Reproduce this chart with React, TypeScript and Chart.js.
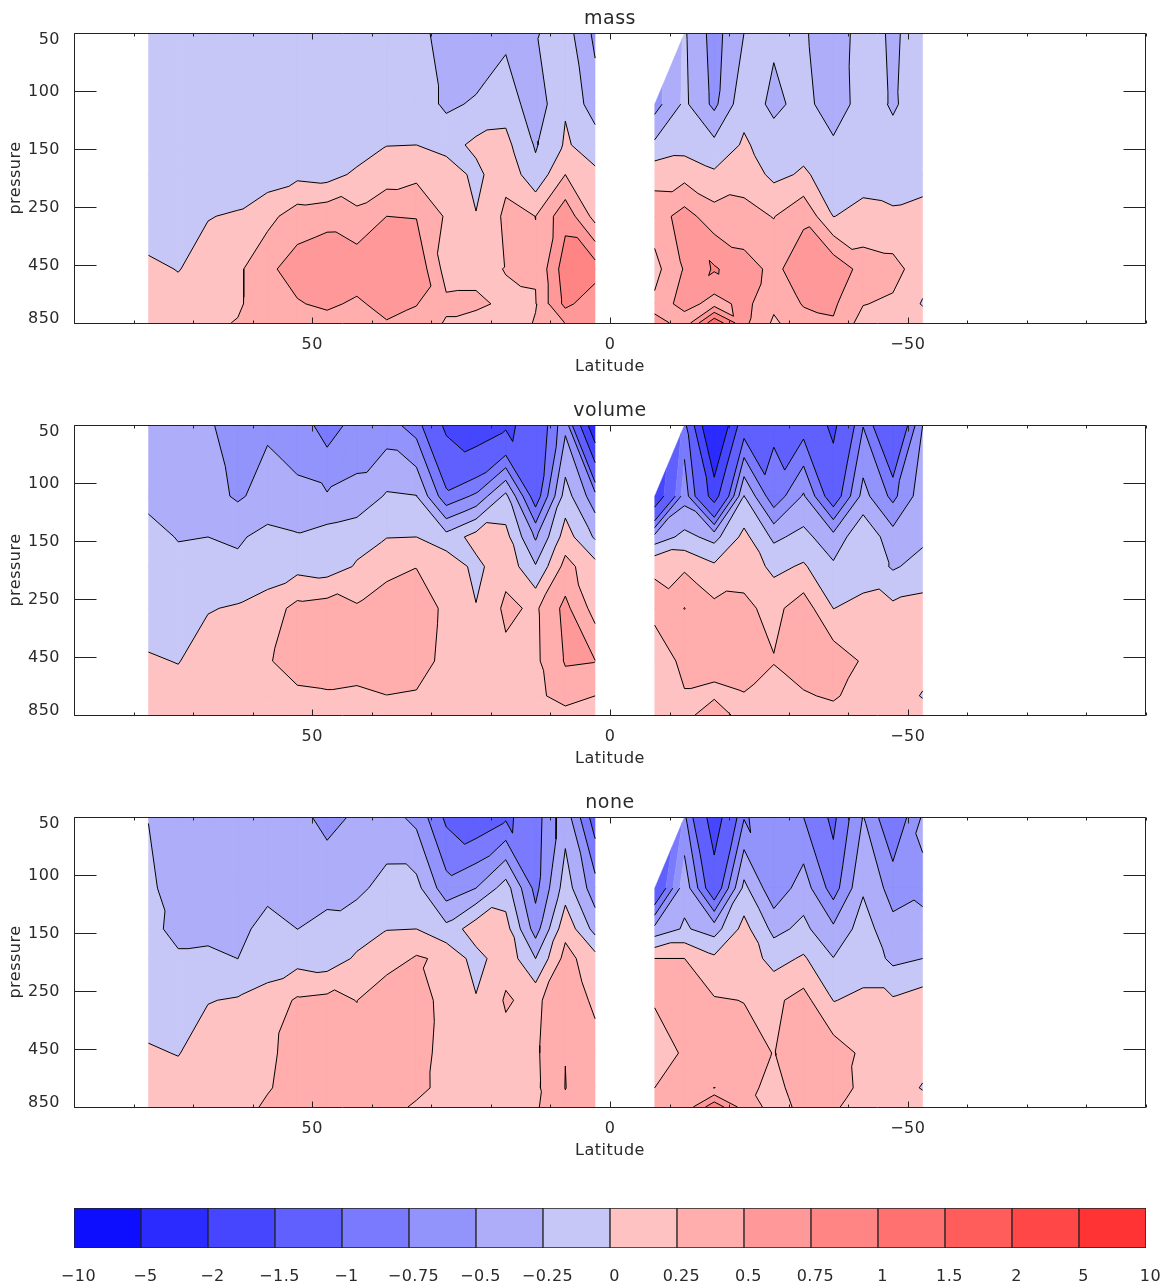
import React, { useEffect, useRef } from "react";
import { Chart, registerables } from "chart.js";

Chart.register(...registerables);

const FONT = "'DejaVu Sans', sans-serif";
const TEXT = "#2a2a2a";

const latLeft = [77.5, 72.5, 67.5, 62.5, 57.5, 52.5, 47.5, 42.5, 37.5, 32.5, 27.5, 22.5, 17.5, 12.5, 7.5, 2.5];
const latRight = [-7.5, -12.5, -17.5, -22.5, -27.5, -32.5, -37.5, -42.5, -47.5, -52.5];
// Grid rows, in axis units (one unit = one labelled pressure step)
const rowPos = [0, 1.227, 1.93, 2.44, 3.16, 4.07, 4.67, 5];
const pressureLabels = ["50", "100", "150", "250", "450", "850"];
const pressureLabelPos = [0.11, 1.02, 2.02, 3.02, 4.02, 4.92];

const levels = [-10, -5, -2, -1.5, -1, -0.75, -0.5, -0.25, 0, 0.25, 0.5, 0.75, 1, 1.5, 2, 5, 10];
const levelLabels = ["−10", "−5", "−2", "−1.5", "−1", "−0.75", "−0.5", "−0.25", "0", "0.25", "0.5", "0.75", "1", "1.5", "2", "5", "10"];
const bandColors = ["#0e0eff", "#2b2bff", "#4646ff", "#6060ff", "#7a7aff", "#9393fc", "#adadf9", "#c7c7f7", "#ffc2c2", "#ffadad", "#ff9999", "#ff8585", "#ff7070", "#ff5c5c", "#ff4747", "#ff3333"];

type Col = (number | null)[];

const massLeft: Col[] = [
  [-0.1, -0.1, -0.12, -0.15, -0.17, 0.06, 0.08, 0.1],
  [-0.1, -0.1, -0.12, -0.13, -0.1, -0.01, 0.1, 0.12],
  [-0.1, -0.1, -0.12, -0.1, -0.01, 0.1, 0.14, 0.18],
  [-0.1, -0.1, -0.19, -0.16, 0.027, 0.2, 0.2, 0.27],
  [-0.1, -0.1, -0.15, -0.128, 0.17, 0.45, 0.46, 0.45],
  [-0.1, -0.12, -0.13, -0.067, 0.379, 0.605, 0.48, 0.45],
  [-0.1, -0.12, -0.13, -0.1, 0.431, 0.66, 0.55, 0.4],
  [-0.1, -0.12, -0.142, 0.05, 0.315, 0.664, 0.454, 0.42],
  [-0.1, -0.1, -0.005, 0.115, 0.5, 0.68, 0.6, 0.48],
  [-0.124, -0.114, 0.0, 0.188, 0.49, 0.69, 0.51, 0.42],
  [-0.4, -0.294, -0.1, 0.16, 0.22, 0.15, 0.3, 0.225],
  [-0.44, -0.22, 0.058, -0.07, 0.01, 0.17, 0.3, 0.155],
  [-0.315, -0.1, 0.07, 0.19, 0.3, 0.26, 0.2, 0.15],
  [-0.27, -0.4, -0.275, -0.18, 0.249, 0.264, 0.24, 0.262],
  [-0.13, -0.02, 0.028, 0.25, 0.667, 0.891, 0.82, 0.51],
  [-0.56, -0.39, -0.11, 0.045, 0.159, 0.873, 0.573, 0.55],
];
const massRight: Col[] = [
  [null, -0.6, -0.2, 0.17, 0.375, 0.17, 0.3, 0.68],
  [-0.22, -0.2, -0.095, 0.162, 0.6, 0.52, 0.62, 0.32],
  [-0.6, -0.56, -0.18, 0.04, 0.357, 0.78, 0.39, 1.2],
  [-0.25, -0.076, 0.033, 0.15, 0.33, 0.6, 0.58, 0.56],
  [-0.2, -0.32, -0.12, -0.06, 0.24, 0.44, 0.3, 0.21],
  [-0.21, -0.15, -0.075, 0.03, 0.453, 0.64, 0.52, 0.4],
  [-0.45, -0.42, -0.2, -0.1, -0.003, 0.69, 0.54, 0.477],
  [-0.1, -0.12, -0.12, -0.05, 0.04, 0.4, 0.26, 0.15],
  [-0.3, -0.28, -0.17, -0.09, 0.03, 0.34, 0.208, 0.15],
  [-0.1, -0.12, -0.08, -0.08, 0.07, 0.11, -0.02, 0.15],
];
const volumeLeft: Col[] = [
  [-0.35, -0.3, -0.186, -0.16, -0.146, 0.03, 0.08, 0.1],
  [-0.35, -0.33, -0.26, -0.2, -0.12, -0.01, 0.1, 0.12],
  [-0.45, -0.4, -0.25, -0.12, -0.015, 0.12, 0.14, 0.16],
  [-0.68, -0.536, -0.28, -0.205, 0.025, 0.15, 0.16, 0.17],
  [-0.54, -0.4, -0.183, -0.147, 0.12, 0.226, 0.2, 0.17],
  [-0.6, -0.457, -0.225, -0.08, 0.325, 0.37, 0.197, 0.18],
  [-0.874, -0.477, -0.148, -0.125, 0.369, 0.4, 0.217, 0.2],
  [-0.65, -0.43, -0.084, 0.023, 0.28, 0.4, 0.187, 0.18],
  [-0.64, -0.223, -0.005, 0.13, 0.46, 0.42, 0.245, 0.17],
  [-0.87, -0.245, 0.0, 0.24, 0.44, 0.42, 0.215, 0.17],
  [-1.6, -0.926, -0.156, 0.175, 0.18, 0.14, 0.15, 0.15],
  [-1.85, -0.7, 0.1, -0.07, 0.011, 0.1, 0.14, 0.15],
  [-1.6, -0.184, 0.079, 0.175, 0.3, 0.19, 0.15, 0.14],
  [-1.3, -1.17, -0.534, -0.229, 0.21, 0.2, 0.17, 0.16],
  [-0.564, -0.136, 0.117, 0.332, 0.569, 0.52, 0.387, 0.128],
  [-2.45, -0.65, -0.284, 0.09, 0.146, 0.505, 0.25, 0.2],
];
const volumeRight: Col[] = [
  [null, -1.9, -0.41, 0.235, 0.285, 0.176, 0.2, 0.18],
  [-0.89, -0.6, -0.175, 0.21, 0.505, 0.28, 0.242, 0.2],
  [-2.77, -1.72, -0.33, 0.045, 0.311, 0.28, 0.23, 0.34],
  [-1.175, -0.245, 0.069, 0.163, 0.3, 0.3, 0.244, 0.18],
  [-1.034, -0.925, -0.3, -0.064, 0.18, 0.262, 0.14, 0.12],
  [-1.13, -0.47, -0.175, 0.03, 0.38, 0.36, 0.227, 0.2],
  [-1.6, -1.21, -0.41, -0.21, -0.002, 0.41, 0.28, 0.17],
  [-0.76, -0.41, -0.058, -0.07, 0.04, 0.22, 0.15, 0.14],
  [-1.5, -0.82, -0.39, -0.28, 0.06, 0.17, 0.16, 0.15],
  [-0.5, -0.35, -0.3, -0.16, 0.094, 0.12, -0.02, 0.14],
];
const noneLeft: Col[] = [
  [-0.26, -0.15, -0.17, -0.14, -0.13, 0.03, 0.08, 0.1],
  [-0.4, -0.48, -0.33, -0.21, -0.12, -0.01, 0.1, 0.12],
  [-0.4, -0.45, -0.33, -0.19, -0.01, 0.12, 0.14, 0.16],
  [-0.4, -0.45, -0.35, -0.251, 0.022, 0.14, 0.16, 0.2],
  [-0.35, -0.35, -0.126, -0.138, 0.1, 0.23, 0.24, 0.27],
  [-0.4, -0.35, -0.251, -0.092, 0.283, 0.29, 0.3, 0.32],
  [-0.6, -0.294, -0.21, -0.143, 0.32, 0.35, 0.36, 0.36],
  [-0.45, -0.3, -0.12, 0.038, 0.245, 0.36, 0.38, 0.38],
  [-0.4, -0.173, -0.005, 0.1, 0.48, 0.46, 0.45, 0.4],
  [-0.568, -0.172, 0.0, 0.28, 0.38, 0.4, 0.36, 0.19],
  [-1.057, -0.65, -0.177, 0.2, 0.15, 0.117, 0.12, 0.15],
  [-1.217, -0.5, 0.15, -0.1, 0.019, 0.1, 0.12, 0.14],
  [-1.05, -0.135, 0.099, 0.17, 0.275, 0.166, 0.14, 0.14],
  [-0.86, -0.83, -0.615, -0.251, 0.18, 0.21, 0.2, 0.22],
  [-0.35, -0.125, 0.176, 0.337, 0.49, 0.497, 0.505, 0.455],
  [-1.155, -0.645, -0.34, 0.1, 0.18, 0.38, 0.33, 0.35],
];
const noneRight: Col[] = [
  [null, -1.4, -0.42, 0.251, 0.27, 0.13, 0.25, 0.3],
  [-0.7, -0.33, -0.22, 0.251, 0.35, 0.28, 0.3, 0.32],
  [-1.77, -1.265, -0.36, 0.05, 0.27, 0.3, 0.249, 0.93],
  [-0.77, -0.18, 0.085, 0.15, 0.245, 0.33, 0.3, 0.38],
  [-0.65, -0.68, -0.32, -0.09, 0.2, 0.244, 0.2, 0.17],
  [-0.75, -0.37, -0.19, 0.032, 0.339, 0.35, 0.33, 0.3],
  [-1.06, -0.87, -0.45, -0.243, -0.005, 0.385, 0.33, 0.28],
  [-0.49, -0.28, -0.137, -0.07, 0.03, 0.2, 0.21, 0.15],
  [-1.0, -0.6, -0.427, -0.31, 0.03, 0.15, 0.15, 0.15],
  [-0.47, -0.53, -0.464, -0.25, 0.118, 0.12, -0.02, 0.15],
];

type V = { x: number; y: number; v: number };

// Triangles next to a missing grid value are shaded but carry no contour line
const unlined = new WeakSet<V[]>();

const mix = (p: V, q: V, level: number): V => {
  const t = (level - p.v) / (q.v - p.v);
  return { x: p.x + t * (q.x - p.x), y: p.y + t * (q.y - p.y), v: level };
};

const levelsCrossed = (p: V, q: V) => levels.filter((l) => p.v < l !== q.v < l).length;

function segmentsOf(t: V[], level: number): V[] {
  const pts: V[] = [];
  t.forEach((p, k) => {
    const q = t[(k + 1) % 3];
    if (p.v < level !== q.v < level) pts.push(mix(p, q, level));
  });
  return pts;
}

// Total on-screen length of the contours a pair of triangles would draw
function contourLength(tris: V[][]): number {
  let sum = 0;
  tris.forEach((t) =>
    levels.forEach((l) => {
      const s = segmentsOf(t, l);
      if (s.length === 2) sum += Math.hypot((s[0].x - s[1].x) * 5.96, (s[0].y - s[1].y) * 58);
    })
  );
  return sum;
}

// Splits each grid cell along the diagonal that the fewest contour levels
// cross; when that ties, the one that gives the straighter (shorter) contours.
function triangles(lats: number[], cols: Col[]): V[][] {
  const out: V[][] = [];
  const at = (i: number, j: number): V | null => {
    const v = cols[i][j];
    return v === null ? null : { x: lats[i], y: rowPos[j], v };
  };
  for (let i = 0; i < lats.length - 1; i++) {
    for (let j = 0; j < rowPos.length - 1; j++) {
      const a = at(i, j), b = at(i + 1, j), c = at(i, j + 1), d = at(i + 1, j + 1);
      if (!b || !c || !d) continue;
      if (!a) {
        const t = [b, c, d];
        unlined.add(t);
        out.push(t);
        continue;
      }
      const viaAD = [[a, b, d], [a, c, d]];
      const viaBC = [[a, b, c], [b, c, d]];
      const nAD = levelsCrossed(a, d), nBC = levelsCrossed(b, c);
      let useAD = nAD < nBC;
      if (nAD === nBC) useAD = nAD === 0 || contourLength(viaAD) <= contourLength(viaBC);
      out.push(...(useAD ? viaAD : viaBC));
    }
  }
  return out;
}

function clip(poly: V[], level: number, keepAbove: boolean): V[] {
  const out: V[] = [];
  const inside = (p: V) => (keepAbove ? p.v >= level : p.v <= level);
  poly.forEach((p, k) => {
    const q = poly[(k + 1) % poly.length];
    if (inside(p)) out.push(p);
    if (inside(p) !== inside(q)) out.push(mix(p, q, level));
  });
  return out;
}

const GAP = { x: NaN, y: NaN };

function buildDatasets(tris: V[][]) {
  const sets: any[] = [];
  bandColors.forEach((color, b) => {
    const data: any[] = [];
    tris.forEach((t) => {
      const poly = clip(clip(t, levels[b], true), levels[b + 1], false);
      if (poly.length > 2) {
        poly.forEach((p) => data.push({ x: p.x, y: p.y }));
        data.push(GAP);
      }
    });
    sets.push({ label: "band " + levelLabels[b], bandFill: color, data, showLine: false, pointRadius: 0 });
  });
  levels.forEach((level, l) => {
    const data: any[] = [];
    tris.forEach((t) => {
      if (unlined.has(t)) return;
      const pts = segmentsOf(t, level);
      if (pts.length === 2) data.push({ x: pts[0].x, y: pts[0].y }, { x: pts[1].x, y: pts[1].y }, GAP);
    });
    sets.push({ label: "level " + levelLabels[l], data, showLine: true, borderColor: "#000", borderWidth: 1, pointRadius: 0, spanGaps: false });
  });
  return sets;
}

const textSpacing = {
  id: "textSpacing",
  beforeDraw(chart: any) {
    chart.ctx.letterSpacing = "0.5px";
  },
};

const bandFillPlugin = {
  id: "bandFill",
  beforeDatasetsDraw(chart: any) {
    const { ctx, chartArea: area, scales } = chart;
    ctx.save();
    ctx.beginPath();
    ctx.rect(area.left, area.top, area.right - area.left, area.bottom - area.top);
    ctx.clip();
    ctx.lineWidth = 0.4;
    chart.data.datasets.forEach((ds: any) => {
      if (!ds.bandFill) return;
      ctx.fillStyle = ds.bandFill;
      ctx.strokeStyle = ds.bandFill;
      ctx.beginPath();
      let start = true;
      ds.data.forEach((p: any) => {
        if (Number.isNaN(p.x)) {
          ctx.closePath();
          start = true;
          return;
        }
        const px = scales.x.getPixelForValue(p.x);
        const py = scales.y.getPixelForValue(p.y);
        if (start) ctx.moveTo(px, py);
        else ctx.lineTo(px, py);
        start = false;
      });
      ctx.fill();
      ctx.stroke();
    });
    ctx.restore();
  },
};

const framePlugin = {
  id: "frame",
  afterDatasetsDraw(chart: any) {
    const { ctx, chartArea: a, scales } = chart;
    ctx.save();
    ctx.strokeStyle = "#222";
    ctx.lineWidth = 1;
    ctx.beginPath();
    const L = a.left + 0.5, R = a.right - 0.5, T = a.top + 0.5, B = a.bottom + 0.5;
    ctx.rect(L, T, R - L, B - T);
    pressureLabels.forEach((_, i) => {
      const y = Math.round(scales.y.getPixelForValue(i)) + 0.5;
      ctx.moveTo(L, y);
      ctx.lineTo(L + 22, y);
      ctx.moveTo(R, y);
      ctx.lineTo(R - 22, y);
    });
    scales.x.ticks.forEach((t: any) => {
      const x = Math.round(scales.x.getPixelForValue(t.value)) + 0.5;
      const len = t.value % 50 === 0 ? 6 : 3;
      ctx.moveTo(x, T);
      ctx.lineTo(x, T + len);
      ctx.moveTo(x, B);
      ctx.lineTo(x, B - len);
    });
    ctx.stroke();
    ctx.restore();
  },
};

function panelConfig(title: string, left: Col[], right: Col[]): any {
  const tris = [...triangles(latLeft, left), ...triangles(latRight, right)];
  return {
    type: "scatter",
    data: { datasets: buildDatasets(tris) },
    plugins: [textSpacing, bandFillPlugin, framePlugin],
    options: {
      animation: false,
      responsive: false,
      devicePixelRatio: 1,
      layout: { padding: { left: 0, right: 21, top: 0, bottom: 9 } },
      font: { family: FONT },
      plugins: {
        legend: { display: false },
        tooltip: { enabled: false },
        title: {
          display: true,
          text: title,
          fullSize: false,
          color: TEXT,
          padding: { top: 9, bottom: 4 },
          font: { family: FONT, size: 19, weight: "normal", lineHeight: "20px" },
        },
      },
      scales: {
        x: {
          type: "linear",
          min: -90,
          max: 90,
          reverse: true,
          afterFit(s: any) {
            s.height = 60;
          },
          grid: { display: false },
          border: { display: false },
          ticks: {
            stepSize: 10,
            autoSkip: false,
            maxRotation: 0,
            padding: 4,
            color: TEXT,
            font: { family: FONT, size: 16 },
            callback: (v: number) => (v % 50 === 0 ? (v < 0 ? "−" + Math.abs(v) : String(v)) : ""),
          },
          title: {
            display: true,
            text: "Latitude",
            color: TEXT,
            padding: { top: 0, bottom: 7 },
            font: { family: FONT, size: 16 },
          },
        },
        y: {
          type: "linear",
          min: 0,
          max: 5,
          reverse: true,
          afterFit(s: any) {
            s.width = 74;
          },
          afterBuildTicks(s: any) {
            s.ticks = pressureLabelPos.map((value) => ({ value }));
          },
          grid: { display: false },
          border: { display: false },
          ticks: {
            autoSkip: false,
            padding: 6,
            color: TEXT,
            font: { family: FONT, size: 16 },
            callback: (_: number, i: number) => pressureLabels[i],
          },
          title: {
            display: true,
            text: "pressure",
            color: TEXT,
            padding: { top: 6, bottom: 0 },
            font: { family: FONT, size: 16 },
          },
        },
      },
    },
  };
}

function colorbarConfig(): any {
  return {
    type: "bar",
    data: {
      datasets: [
        {
          data: bandColors.map((_, i) => ({ x: i + 0.5, y: 1 })),
          backgroundColor: bandColors,
          borderColor: "#222",
          borderWidth: 1,
          borderSkipped: false,
          barPercentage: 1,
          categoryPercentage: 1,
        },
      ],
    },
    plugins: [textSpacing],
    options: {
      animation: false,
      responsive: false,
      devicePixelRatio: 1,
      layout: { padding: { left: 74, right: 21, top: 38, bottom: 0 } },
      plugins: { legend: { display: false }, tooltip: { enabled: false } },
      scales: {
        x: {
          type: "linear",
          min: 0,
          max: 16,
          offset: false,
          afterFit(s: any) {
            s.height = 33;
            s.paddingLeft = 0;
            s.paddingRight = 0;
          },
          afterBuildTicks(s: any) {
            s.ticks = levelLabels.map((_, i) => ({ value: i + 0.067 }));
          },
          grid: { display: false },
          border: { display: false },
          ticks: {
            autoSkip: false,
            maxRotation: 0,
            padding: 11,
            color: TEXT,
            font: { family: FONT, size: 16 },
            callback: (_: number, i: number) => levelLabels[i],
          },
        },
        y: { type: "linear", min: 0, max: 1, display: false },
      },
    },
  };
}

function ChartCanvas({ config, top, height }: { config: () => any; top: number; height: number }) {
  const ref = useRef<HTMLCanvasElement | null>(null);
  useEffect(() => {
    const chart = new Chart(ref.current as HTMLCanvasElement, config());
    return () => chart.destroy();
  }, [config]);
  return <canvas ref={ref} width={1167} height={height} style={{ position: "absolute", left: 0, top, display: "block" }} />;
}

const massConfig = () => panelConfig("mass", massLeft, massRight);
const volumeConfig = () => panelConfig("volume", volumeLeft, volumeRight);
const noneConfig = () => panelConfig("none", noneLeft, noneRight);

export default function App() {
  return (
    <div>
      <ChartCanvas config={massConfig} top={0} height={392} />
      <ChartCanvas config={volumeConfig} top={392} height={392} />
      <ChartCanvas config={noneConfig} top={784} height={392} />
      <ChartCanvas config={colorbarConfig} top={1170} height={111} />
    </div>
  );
}
